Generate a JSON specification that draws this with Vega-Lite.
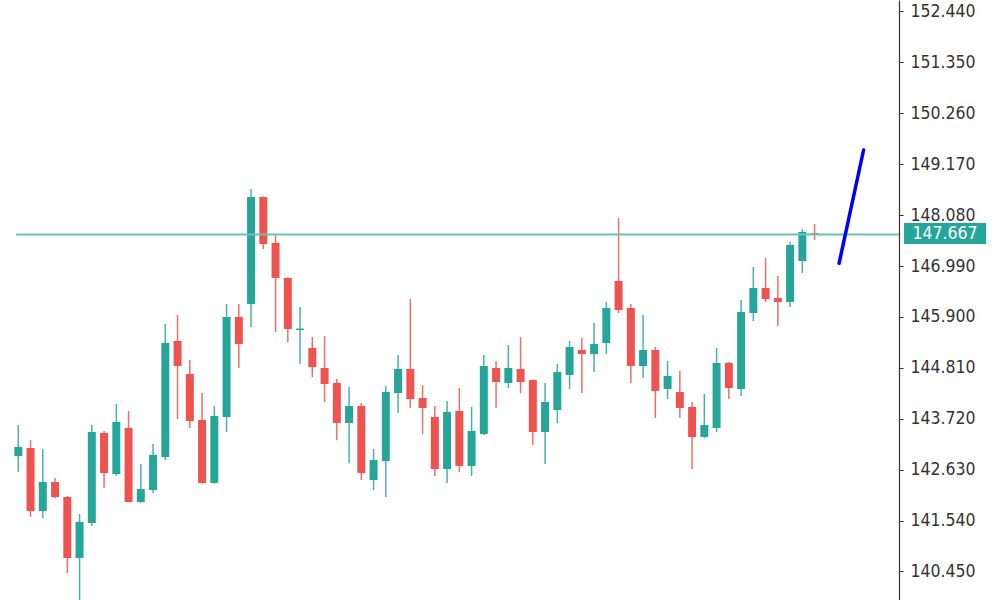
{
  "$schema": "https://vega.github.io/schema/vega-lite/v6.json",
  "width": 899,
  "height": 600,
  "autosize": {"type": "none"},
  "padding": {"left": 0, "top": 0, "right": 101, "bottom": 0},
  "background": "#ffffff",
  "config": {"view": {"stroke": null}, "scale": {"continuousPadding": 0}},
  "datasets": {
    "candles": [
      {"i":0,"open":142.922,"high":143.585,"low":142.579,"close":143.114},
      {"i":1,"open":143.093,"high":143.264,"low":141.615,"close":141.744},
      {"i":2,"open":141.744,"high":143.072,"low":141.594,"close":142.365},
      {"i":3,"open":142.365,"high":142.451,"low":142.022,"close":142.044},
      {"i":4,"open":142.044,"high":142.065,"low":140.416,"close":140.738},
      {"i":5,"open":140.738,"high":141.680,"low":139.838,"close":141.508},
      {"i":6,"open":141.487,"high":143.585,"low":141.423,"close":143.436},
      {"i":7,"open":143.414,"high":143.457,"low":142.236,"close":142.558},
      {"i":8,"open":142.536,"high":144.035,"low":142.500,"close":143.650},
      {"i":9,"open":143.521,"high":143.885,"low":141.930,"close":141.937},
      {"i":10,"open":141.937,"high":142.750,"low":141.915,"close":142.215},
      {"i":11,"open":142.193,"high":143.179,"low":142.129,"close":142.943},
      {"i":12,"open":142.900,"high":145.748,"low":142.836,"close":145.341},
      {"i":13,"open":145.384,"high":145.941,"low":143.714,"close":144.849},
      {"i":14,"open":144.678,"high":144.977,"low":143.521,"close":143.671},
      {"i":15,"open":143.693,"high":144.271,"low":142.330,"close":142.344},
      {"i":16,"open":142.344,"high":143.992,"low":142.330,"close":143.778},
      {"i":17,"open":143.757,"high":146.176,"low":143.436,"close":145.898},
      {"i":18,"open":145.898,"high":146.176,"low":144.806,"close":145.320},
      {"i":19,"open":146.176,"high":148.639,"low":145.684,"close":148.468},
      {"i":20,"open":148.468,"high":148.480,"low":147.354,"close":147.461},
      {"i":21,"open":147.483,"high":147.675,"low":145.577,"close":146.733},
      {"i":22,"open":146.733,"high":146.750,"low":145.363,"close":145.641},
      {"i":23,"open":145.620,"high":146.112,"low":144.892,"close":145.650},
      {"i":24,"open":145.234,"high":145.470,"low":144.613,"close":144.827},
      {"i":25,"open":144.806,"high":145.491,"low":144.078,"close":144.463},
      {"i":26,"open":144.485,"high":144.570,"low":143.264,"close":143.628},
      {"i":27,"open":143.628,"high":144.399,"low":142.772,"close":143.992},
      {"i":28,"open":143.992,"high":144.057,"low":142.408,"close":142.558},
      {"i":29,"open":142.408,"high":143.072,"low":142.193,"close":142.836},
      {"i":30,"open":142.815,"high":144.421,"low":142.044,"close":144.292},
      {"i":31,"open":144.271,"high":145.084,"low":143.842,"close":144.785},
      {"i":32,"open":144.785,"high":146.284,"low":143.949,"close":144.142},
      {"i":33,"open":144.164,"high":144.442,"low":143.393,"close":143.949},
      {"i":34,"open":143.757,"high":143.992,"low":142.493,"close":142.643},
      {"i":35,"open":142.643,"high":144.099,"low":142.344,"close":143.864},
      {"i":36,"open":143.885,"high":144.378,"low":142.579,"close":142.708},
      {"i":37,"open":142.708,"high":143.971,"low":142.493,"close":143.457},
      {"i":38,"open":143.393,"high":145.084,"low":143.370,"close":144.849},
      {"i":39,"open":144.806,"high":144.956,"low":143.949,"close":144.506},
      {"i":40,"open":144.485,"high":145.299,"low":144.378,"close":144.806},
      {"i":41,"open":144.785,"high":145.470,"low":144.271,"close":144.506},
      {"i":42,"open":144.549,"high":144.560,"low":143.157,"close":143.436},
      {"i":43,"open":143.436,"high":144.485,"low":142.750,"close":144.078},
      {"i":44,"open":143.907,"high":144.892,"low":143.628,"close":144.720},
      {"i":45,"open":144.656,"high":145.384,"low":144.356,"close":145.256},
      {"i":46,"open":145.191,"high":145.448,"low":144.271,"close":145.106},
      {"i":47,"open":145.106,"high":145.770,"low":144.720,"close":145.320},
      {"i":48,"open":145.341,"high":146.219,"low":145.106,"close":146.091},
      {"i":49,"open":146.669,"high":148.018,"low":145.984,"close":146.048},
      {"i":50,"open":146.091,"high":146.176,"low":144.485,"close":144.849},
      {"i":51,"open":144.849,"high":145.941,"low":144.592,"close":145.191},
      {"i":52,"open":145.191,"high":145.256,"low":143.735,"close":144.314},
      {"i":53,"open":144.356,"high":144.956,"low":144.142,"close":144.635},
      {"i":54,"open":144.292,"high":144.742,"low":143.735,"close":143.949},
      {"i":55,"open":143.971,"high":144.078,"low":142.643,"close":143.329},
      {"i":56,"open":143.329,"high":144.249,"low":143.310,"close":143.585},
      {"i":57,"open":143.521,"high":145.234,"low":143.436,"close":144.913},
      {"i":58,"open":144.913,"high":144.935,"low":144.142,"close":144.378},
      {"i":59,"open":144.356,"high":146.262,"low":144.206,"close":146.005},
      {"i":60,"open":145.984,"high":146.969,"low":145.812,"close":146.519},
      {"i":61,"open":146.519,"high":147.161,"low":146.219,"close":146.284},
      {"i":62,"open":146.305,"high":146.776,"low":145.705,"close":146.219},
      {"i":63,"open":146.219,"high":147.504,"low":146.112,"close":147.440},
      {"i":64,"open":147.097,"high":147.782,"low":146.840,"close":147.718},
      {"i":65,"open":147.697,"high":147.889,"low":147.547,"close":147.654}
    ],
    "level": [{"from": -0.19, "to": 71.89, "price": 147.667, "label": "147.667", "tagFrom": 72.3, "tagTo": 79.0, "tagMid": 75.65, "tagLow": 147.461, "tagHigh": 147.911}],
    "trend": [{"i": 67.0, "price": 147.048}, {"i": 69.0, "price": 149.474}]
  },
  "layer": [
    {
      "data": {"name": "candles"},
      "mark": {"type": "rule", "strokeWidth": 1.5, "opacity": 0.85},
      "encoding": {
        "x": {"field": "i", "type": "quantitative", "scale": {"domain": [-1.494, 71.89], "nice": false, "zero": false, "padding": 0}, "axis": null},
        "y": {"field": "low", "type": "quantitative", "scale": {"domain": [139.838, 152.686], "nice": false, "zero": false, "padding": 0},
          "axis": {"orient": "right", "title": null, "grid": false,
            "values": [140.45, 141.54, 142.63, 143.72, 144.81, 145.9, 146.99, 148.08, 149.17, 150.26, 151.35, 152.44],
            "format": ".3f", "tickSize": 4, "tickColor": "#333333", "domainColor": "#333333", "domainWidth": 1.2,
            "labelPadding": 7, "labelFont": "DejaVu Sans Condensed, Liberation Sans, sans-serif", "labelFontSize": 17.5,
            "labelColor": "#333333", "labelBaseline": "middle", "labelFlush": false, "labelOverlap": false}},
        "y2": {"field": "high"},
        "color": {"condition": {"test": "datum.close < datum.open", "value": "#ef5350"}, "value": "#26a69a"}
      }
    },
    {
      "data": {"name": "candles"},
      "mark": {"type": "bar", "size": 8},
      "encoding": {
        "x": {"field": "i", "type": "quantitative"},
        "y": {"field": "open", "type": "quantitative"},
        "y2": {"field": "close"},
        "color": {"condition": {"test": "datum.close < datum.open", "value": "#ef5350"}, "value": "#26a69a"}
      }
    },
    {
      "data": {"name": "level"},
      "mark": {"type": "rule", "color": "#6cc2b4", "strokeWidth": 2},
      "encoding": {
        "x": {"field": "from", "type": "quantitative"},
        "x2": {"field": "to"},
        "y": {"field": "price", "type": "quantitative"}
      }
    },
    {
      "data": {"name": "trend"},
      "mark": {"type": "line", "color": "#0000ff", "strokeWidth": 3.5, "strokeCap": "round"},
      "encoding": {
        "x": {"field": "i", "type": "quantitative"},
        "y": {"field": "price", "type": "quantitative"}
      }
    },
    {
      "data": {"name": "level"},
      "mark": {"type": "rect", "color": "#26a69a"},
      "encoding": {
        "x": {"field": "tagFrom", "type": "quantitative"},
        "x2": {"field": "tagTo"},
        "y": {"field": "tagLow", "type": "quantitative"},
        "y2": {"field": "tagHigh"}
      }
    },
    {
      "data": {"name": "level"},
      "mark": {"type": "text", "color": "#ffffff", "font": "DejaVu Sans Condensed, Liberation Sans, sans-serif", "fontSize": 17.5, "align": "center", "baseline": "middle"},
      "encoding": {
        "x": {"field": "tagMid", "type": "quantitative"},
        "y": {"field": "price", "type": "quantitative"},
        "text": {"field": "label"}
      }
    }
  ]
}
